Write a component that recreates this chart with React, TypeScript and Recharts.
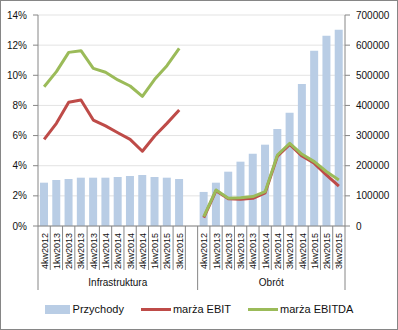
import { Bar, CartesianGrid, ComposedChart, Legend, Line, XAxis, YAxis } from "recharts";

const quarters = [
  "4kw2012", "1kw2013", "2kw2013", "3kw2013", "4kw2013", "1kw2014",
  "2kw2014", "3kw2014", "4kw2014", "1kw2015", "2kw2015", "3kw2015",
];
const groups = ["Infrastruktura", "Obrót"];

const infraRevenue = [143700, 152600, 156000, 160300, 160300, 160300, 162600, 165900, 169200, 162600, 160300, 156000];
const infraEbit = [0.0575, 0.0681, 0.0821, 0.0836, 0.0703, 0.0664, 0.0619, 0.0575, 0.0496, 0.0597, 0.0681, 0.077];
const infraEbitda = [0.0924, 0.1024, 0.1152, 0.1163, 0.1046, 0.102, 0.0969, 0.0929, 0.086, 0.0973, 0.1064, 0.1179];

const obrotRevenue = [113000, 143700, 180200, 213400, 240000, 269800, 321800, 376000, 471100, 581700, 631500, 651400];
const obrotEbit = [0.0055, 0.0234, 0.018, 0.0178, 0.0184, 0.022, 0.0464, 0.0542, 0.0464, 0.0416, 0.0338, 0.0265];
const obrotEbitda = [0.0062, 0.0239, 0.0184, 0.0188, 0.0195, 0.0228, 0.0471, 0.0549, 0.0476, 0.0427, 0.036, 0.0305];

const pctTicks = [0, 0.02, 0.04, 0.06, 0.08, 0.1, 0.12, 0.14];
const revenueTicks = [0, 100000, 200000, 300000, 400000, 500000, 600000, 700000];

const BAR_COLOR = "#b9cde5";
const EBIT_COLOR = "#be4b48";
const EBITDA_COLOR = "#9bbb59";
const AXIS_COLOR = "#868686";
const FONT = "'Liberation Sans', Arial, sans-serif";

const data = [
  ...quarters.map((q, i) => ({
    key: `${groups[0]}|${q}`,
    quarter: q,
    revenue: infraRevenue[i],
    ebit: infraEbit[i],
    ebitda: infraEbitda[i],
  })),
  { key: `${groups[0]}|blank`, quarter: "", revenue: null, ebit: null, ebitda: null },
  ...quarters.map((q, i) => ({
    key: `${groups[1]}|${q}`,
    quarter: q,
    revenue: obrotRevenue[i],
    ebit: obrotEbit[i],
    ebitda: obrotEbitda[i],
  })),
];

const WIDTH = 398;
const HEIGHT = 330;
const LEFT_AXIS_W = 38;
const RIGHT_AXIS_W = 53;
const BAND = (WIDTH - LEFT_AXIS_W - RIGHT_AXIS_W) / data.length;
const GROUP_START = [0, quarters.length + 1];

function QuarterTick(props: any) {
  const { x, y, payload } = props;
  const index: number = payload.index;
  const row = data[index];
  const isGroupStart = GROUP_START.includes(index);
  const isLast = index === data.length - 1;
  const left = x - BAND / 2;

  let groupLabel: { text: string; cx: number } | null = null;
  if (index === 6) groupLabel = { text: groups[0], cx: x };
  if (index === quarters.length + 1 + 5) groupLabel = { text: groups[1], cx: x + BAND / 2 };

  return (
    <g>
      <line x1={left} x2={left} y1={y} y2={y + (isGroupStart ? 64 : 44)} stroke={AXIS_COLOR} />
      {isLast && (
        <line x1={x + BAND / 2} x2={x + BAND / 2} y1={y} y2={y + 64} stroke={AXIS_COLOR} />
      )}
      {row.quarter && (
        <text
          transform={`translate(${x + 3.5},${y + 7}) rotate(-90)`}
          textAnchor="end"
          fontSize={9}
          fontFamily={FONT}
          fill="#111"
        >
          {row.quarter}
        </text>
      )}
      {groupLabel && (
        <text x={groupLabel.cx} y={y + 60} textAnchor="middle" fontSize={10} fontFamily={FONT} fill="#111">
          {groupLabel.text}
        </text>
      )}
    </g>
  );
}

function ChartLegend() {
  const item = { display: "flex", alignItems: "center", fontSize: 11, fontFamily: FONT, color: "#111" } as const;
  return (
    <div style={{ display: "flex", justifyContent: "center", alignItems: "center", height: 30, gap: 17 }}>
      <div style={item}>
        <span style={{ width: 25, height: 9, background: BAR_COLOR, marginRight: 3 }} />
        Przychody
      </div>
      <div style={item}>
        <span style={{ width: 30, height: 3, background: EBIT_COLOR, marginRight: 2 }} />
        marża EBIT
      </div>
      <div style={item}>
        <span style={{ width: 30, height: 3, background: EBITDA_COLOR, marginRight: 2 }} />
        marża EBITDA
      </div>
    </div>
  );
}

export default function App() {
  return (
    <div
      style={{
        position: "absolute",
        left: 0,
        top: 0,
        width: WIDTH,
        height: HEIGHT,
        background: "#fff",
        outline: `1px solid ${AXIS_COLOR}`,
        outlineOffset: -1,
      }}
    >
      <ComposedChart
        width={WIDTH}
        height={HEIGHT}
        data={data}
        margin={{ top: 15, right: 0, bottom: 6, left: 0 }}
      >
        <CartesianGrid yAxisId="left" vertical={false} stroke="#e3e3e3" />
        <XAxis
          dataKey="key"
          interval={0}
          height={68}
          tickSize={0}
          tickMargin={0}
          tickLine={false}
          axisLine={{ stroke: AXIS_COLOR }}
          tick={<QuarterTick />}
        />
        <YAxis
          yAxisId="left"
          width={LEFT_AXIS_W}
          domain={[0, 0.14]}
          ticks={pctTicks}
          tickFormatter={(v: number) => `${Math.round(v * 100)}%`}
          axisLine={{ stroke: AXIS_COLOR }}
          tickLine={{ stroke: AXIS_COLOR }}
          tickSize={5}
          tickMargin={6}
          tick={{ fontSize: 10, fontFamily: FONT, fill: "#111" }}
        />
        <YAxis
          yAxisId="right"
          orientation="right"
          width={RIGHT_AXIS_W}
          domain={[0, 700000]}
          ticks={revenueTicks}
          axisLine={{ stroke: AXIS_COLOR }}
          tickLine={{ stroke: AXIS_COLOR }}
          tickSize={5}
          tickMargin={6}
          tick={{ fontSize: 10, fontFamily: FONT, fill: "#111", textAnchor: "start" }}
        />
        <Bar yAxisId="right" dataKey="revenue" name="Przychody" fill={BAR_COLOR} barSize={8} isAnimationActive={false} />
        <Line
          yAxisId="left"
          type="linear"
          dataKey="ebit"
          name="marża EBIT"
          stroke={EBIT_COLOR}
          strokeWidth={3}
          dot={false}
          activeDot={false}
          strokeLinejoin="round"
          isAnimationActive={false}
        />
        <Line
          yAxisId="left"
          type="linear"
          dataKey="ebitda"
          name="marża EBITDA"
          stroke={EBITDA_COLOR}
          strokeWidth={3}
          dot={false}
          activeDot={false}
          strokeLinejoin="round"
          isAnimationActive={false}
        />
        <Legend verticalAlign="bottom" content={<ChartLegend />} />
      </ComposedChart>
    </div>
  );
}
